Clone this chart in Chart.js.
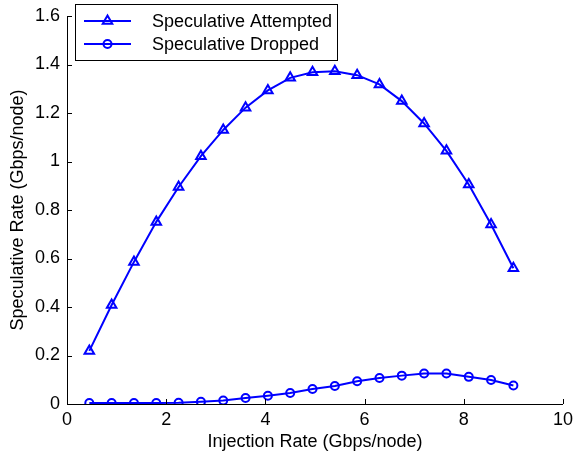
<!DOCTYPE html>
<html>
<head>
<meta charset="utf-8">
<script src="https://cdn.jsdelivr.net/npm/chart.js@4.4.0/dist/chart.umd.min.js"></script>
<style>
  body { margin: 0; background: #fff; }
  #wrap { width: 578px; height: 455px; }
</style>
</head>
<body>
<div id="wrap"><canvas id="rateChart" width="578" height="455"></canvas></div>
<script>
// data
const injectionRate = [0.45, 0.9, 1.35, 1.8, 2.25, 2.7, 3.15, 3.6, 4.05, 4.5, 4.95, 5.4, 5.85, 6.3, 6.75, 7.2, 7.65, 8.1, 8.55, 9.0];
const specAttempted = [0.219, 0.408, 0.586, 0.751, 0.895, 1.022, 1.130, 1.222, 1.293, 1.345, 1.368, 1.372, 1.356, 1.318, 1.249, 1.157, 1.044, 0.905, 0.740, 0.560];
const specDropped = [0.004, 0.004, 0.004, 0.004, 0.005, 0.009, 0.014, 0.025, 0.034, 0.045, 0.062, 0.074, 0.094, 0.107, 0.117, 0.126, 0.126, 0.112, 0.099, 0.076];
const xTicks = [0, 2, 4, 6, 8, 10];
const yTicks = [0, 0.2, 0.4, 0.6, 0.8, 1, 1.2, 1.4, 1.6];
const seriesNames = ['Speculative Attempted', 'Speculative Dropped'];

const blue = '#0000ff';
const fontFam = '"Liberation Sans", Arial, Helvetica, sans-serif';

function toPoints(xs, ys) {
    return xs.map((x, i) => ({ x: x, y: ys[i] }));
}

// ticks pointing into the plot, like matlab
const inwardTicks = {
    id: 'inwardTicks',
    afterDraw(chart) {
        const c = chart.ctx;
        const area = chart.chartArea;
        const sx = chart.scales.x, sy = chart.scales.y;
        c.save();
        c.strokeStyle = '#000';
        c.lineWidth = 1;
        c.beginPath();
        for (const v of xTicks) {
            const px = Math.round(sx.getPixelForValue(v)) + 0.5;
            c.moveTo(px, area.bottom);
            c.lineTo(px, area.bottom - 5);
        }
        for (const v of yTicks) {
            const py = Math.round(sy.getPixelForValue(v)) + 0.5;
            c.moveTo(area.left, py);
            c.lineTo(area.left + 5, py);
        }
        c.stroke();
        c.restore();
    }
};

// boxed legend with line + marker samples
const boxLegend = {
    id: 'boxLegend',
    afterDraw(chart) {
        const c = chart.ctx;
        const bx = 75.5, by = 4.5, bw = 262, bh = 56;
        c.save();
        c.fillStyle = '#fff';
        c.fillRect(bx, by, bw, bh);
        c.strokeStyle = '#000';
        c.lineWidth = 1;
        c.strokeRect(bx, by, bw, bh);
        chart.data.datasets.forEach((ds, i) => {
            const ly = 21 + i * 23;
            c.strokeStyle = ds.borderColor;
            c.lineWidth = ds.borderWidth;
            c.beginPath();
            c.moveTo(84, ly);
            c.lineTo(131, ly);
            c.stroke();
            c.fillStyle = 'rgba(0,0,0,0)';
            Chart.helpers.drawPoint(c, {
                pointStyle: ds.pointStyle,
                radius: ds.pointRadius,
                borderWidth: ds.pointBorderWidth,
                rotation: 0
            }, 107.5, ly);
            c.fillStyle = '#000';
            c.font = '18px ' + fontFam;
            c.textBaseline = 'middle';
            c.textAlign = 'left';
            c.fillText(ds.label, 152, ly + 1);
        });
        c.restore();
    }
};

const ctx = document.getElementById('rateChart').getContext('2d');
const chart = new Chart(ctx, {
    type: 'line',
    data: {
        datasets: [{
            label: seriesNames[0],
            data: toPoints(injectionRate, specAttempted),
            borderColor: blue,
            backgroundColor: 'rgba(0,0,0,0)',
            borderWidth: 2,
            pointStyle: 'triangle',
            pointRadius: 5.5,
            pointBorderWidth: 2,
            pointBorderColor: blue,
            pointBackgroundColor: 'rgba(0,0,0,0)',
            tension: 0
        }, {
            label: seriesNames[1],
            data: toPoints(injectionRate, specDropped),
            borderColor: blue,
            backgroundColor: 'rgba(0,0,0,0)',
            borderWidth: 2,
            pointStyle: 'circle',
            pointRadius: 4,
            pointBorderWidth: 2,
            pointBorderColor: blue,
            pointBackgroundColor: 'rgba(0,0,0,0)',
            tension: 0
        }]
    },
    options: {
        responsive: false,
        animation: false,
        devicePixelRatio: 1,
        layout: { padding: { left: 0, right: 11, top: 13, bottom: 0 } },
        scales: {
            x: {
                type: 'linear',
                min: 0,
                max: 10,
                afterFit: (s) => { s.height = 51; },
                afterBuildTicks: (s) => { s.ticks = xTicks.map(v => ({ value: v })); },
                grid: { display: false, drawTicks: false },
                border: { display: true, color: '#000', width: 1 },
                ticks: {
                    color: '#000',
                    padding: 5,
                    maxRotation: 0,
                    font: { family: fontFam, size: 18 }
                },
                title: {
                    display: true,
                    text: 'Injection Rate (Gbps/node)',
                    color: '#000',
                    padding: { top: 0, bottom: 2 },
                    font: { family: fontFam, size: 18 }
                }
            },
            y: {
                type: 'linear',
                min: 0,
                max: 1.6,
                afterFit: (s) => { s.width = 67; },
                afterBuildTicks: (s) => { s.ticks = yTicks.map(v => ({ value: v })); },
                grid: { display: false, drawTicks: false },
                border: { display: true, color: '#000', width: 1 },
                ticks: {
                    color: '#000',
                    padding: 7,
                    font: { family: fontFam, size: 18, lineHeight: 1 },
                    callback: (v) => String(Math.round(v * 10) / 10)
                },
                title: {
                    display: true,
                    text: 'Speculative Rate (Gbps/node)',
                    color: '#000',
                    padding: { top: 7, bottom: 0 },
                    font: { family: fontFam, size: 18 }
                }
            }
        },
        plugins: {
            legend: { display: false },
            tooltip: { enabled: false }
        }
    },
    plugins: [inwardTicks, boxLegend]
});
</script>
</body>
</html>
